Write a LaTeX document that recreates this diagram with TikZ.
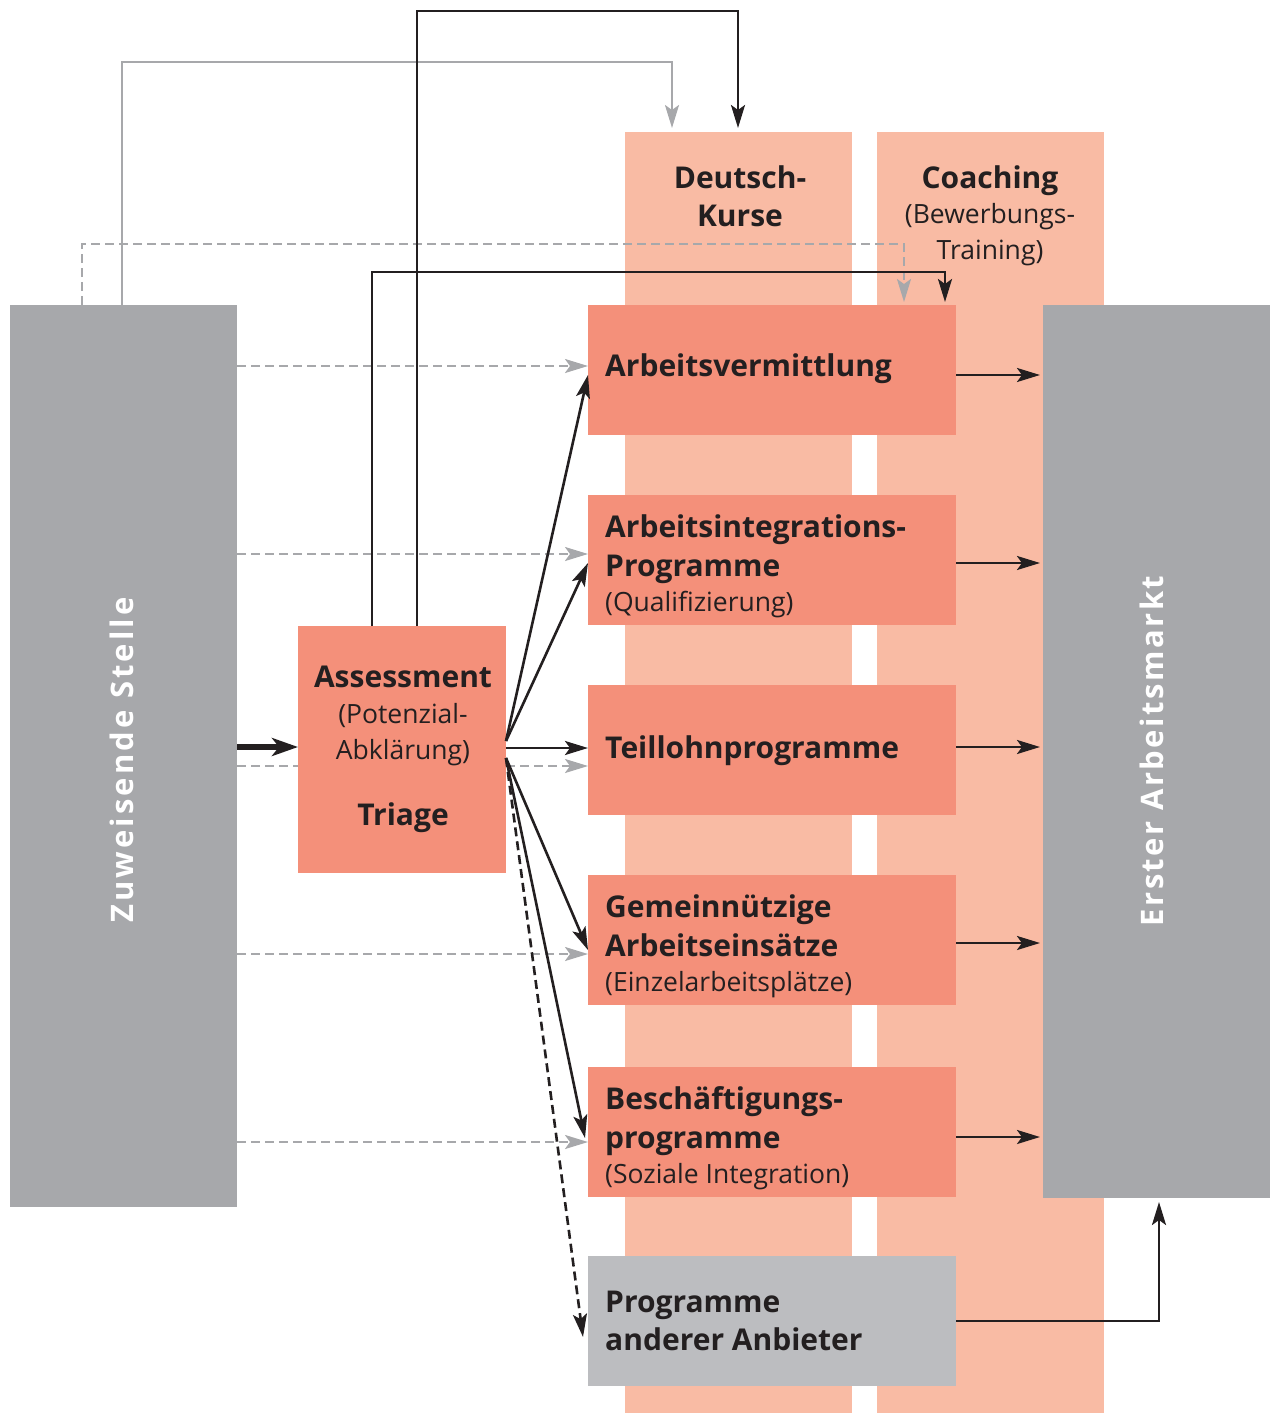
\documentclass[tikz,border=0pt]{standalone}
\usepackage{fontspec}
\setmainfont{Open Sans}
\usetikzlibrary{arrows.meta}
\definecolor{grayA}{HTML}{A7A8AB}
\definecolor{grayB}{HTML}{BCBDC0}
\definecolor{salmonL}{HTML}{F9BBA4}
\definecolor{salmonD}{HTML}{F4907A}
\definecolor{txt}{HTML}{231F20}
\definecolor{lineG}{HTML}{A7A8AB}
\tikzset{
  tip/.style={-{Stealth[length=23pt,width=14pt,inset=5pt]}},
  blk/.style={tip,draw=txt,line width=2.6pt},
  gry/.style={tip,draw=lineG,color=lineG,line width=2.2pt},
  gdash/.style={gry,dash pattern=on 9pt off 5pt},
  bdash/.style={blk,dash pattern=on 9pt off 5pt},
  col/.style={fill=salmonL,draw=none,minimum width=227pt,minimum height=1281pt,anchor=north west,inner sep=0},
  prog/.style={fill=salmonD,draw=none,minimum width=368pt,minimum height=130pt,anchor=north west,inner sep=0},
  btxt/.style={anchor=west,align=left,inner sep=0,text=txt,font=\fontsize{30}{39}\selectfont},
}
\begin{document}
\begin{tikzpicture}[x=1pt,y=-1pt]
\useasboundingbox (0,0) rectangle (1270,1413);
% columns
\node[col] (deutsch) at (625,132) {};
\node[col] (coach) at (877,132) {};
\node[text=txt,align=center,font=\fontsize{30}{38}\selectfont\bfseries] (deutschT) at (740,196) {Deutsch-\\Kurse};
\node[text=txt,align=center,font=\fontsize{30}{37}\selectfont] (coachT) at (990,216) {\textbf{Coaching}\\[-2pt]{\fontsize{26.5}{33}\selectfont(Bewerbungs-}\\[-1pt]{\fontsize{26.5}{33}\selectfont Training)}};
% gray side boxes
\node[fill=grayA,minimum width=227pt,minimum height=902pt,anchor=north west,inner sep=0] (zuw) at (10,305) {};
\node[fill=grayA,minimum width=227pt,minimum height=893pt,anchor=north west,inner sep=0] (erst) at (1043,305) {};
\node[rotate=90,text=white,font=\fontsize{31}{34}\selectfont\bfseries] (zuwT) at (122,760) {\addfontfeatures{LetterSpace=10}Zuweisende Stelle};
\node[rotate=90,text=white,font=\fontsize{31}{34}\selectfont\bfseries] (erstT) at (1152,751) {\addfontfeatures{LetterSpace=8}Erster Arbeitsmarkt};
% assessment
\node[fill=salmonD,minimum width=208pt,minimum height=247pt,anchor=north west,inner sep=0] (ass) at (298,626) {};
\node[text=txt,align=center,font=\fontsize{30}{37}\selectfont] (assT) at (403,716) {\textbf{Assessment}\\[-1pt]{\fontsize{26.5}{35}\selectfont(Potenzial-}\\[-1pt]{\fontsize{26.5}{35}\selectfont Abklärung)}};
\node[text=txt,font=\fontsize{30}{36}\selectfont\bfseries] (triT) at (403,818) {Triage};
% programs
\node[prog] (p1) at (588,305) {};
\node[prog] (p2) at (588,495) {};
\node[prog] (p3) at (588,685) {};
\node[prog] (p4) at (588,875) {};
\node[prog] (p5) at (588,1067) {};
\node[prog,fill=grayB] (p6) at (588,1256) {};
\node[btxt,font=\fontsize{30}{39}\selectfont\bfseries] (t1) at (605,369) {Arbeitsvermittlung};
\node[btxt] (t2) at (605,566) {\textbf{Arbeitsintegrations-}\\\textbf{Programme}\\[-4pt]{\fontsize{26.5}{30}\selectfont(Qualifizierung)}};
\node[btxt,font=\fontsize{30}{39}\selectfont\bfseries] (t3) at (605,751) {Teillohnprogramme};
\node[btxt] (t4) at (605,946) {\textbf{Gemeinnützige}\\\textbf{Arbeitseinsätze}\\[-4pt]{\fontsize{26.5}{30}\selectfont(Einzelarbeitsplätze)}};
\node[btxt] (t5) at (605,1138) {\textbf{Beschäftigungs-}\\\textbf{programme}\\[-4pt]{\fontsize{26.5}{30}\selectfont(Soziale Integration)}};
\node[btxt,font=\fontsize{30}{38}\selectfont\bfseries] (t6) at (605,1321) {Programme\\anderer Anbieter};
% coordinates
\coordinate (o1) at (506,741);
\coordinate (o2) at (506,758);
% thick input arrow
\draw[-{Stealth[length=26pt,width=18pt,inset=7pt]},draw=txt,fill=txt,line width=6pt] (237,747) -- (ass.west |- 0,747);
% gray dashed from left
\foreach \y/\n in {366/p1,554/p2,954/p4,1142/p5}{
  \draw[gdash] (237,\y) -- (\n.west |- 0,\y);
}
\draw[draw=lineG,line width=2.2pt,dash pattern=on 9pt off 5pt] (237,766) -- (298,766);
\draw[gdash] (506,766) -- (p3.west |- 0,766);
% gray dashed top route
\draw[gdash] (82,305) -- (82,244) -- (904,244) -- (904,302);
% gray solid top route
\draw[gry] (122,305) -- (122,62) -- (672,62) -- (672,128);
% black top routes
\draw[blk] (417,626) -- (417,11) -- (738,11) -- (738,128);
\draw[blk] (372,626) -- (372,272) -- (945,272) -- (945,302);
% fan
\draw[blk] (o1) -- (588,375);
\draw[blk] (o1) -- (588,563);
\draw[blk] (506,748) -- (588,748);
\draw[blk] (o2) -- (588,950);
\draw[blk] (o2) -- (585,1138);
\draw[bdash] (o2) -- (583,1337);
% outputs
\foreach \y in {375,563,747,943,1137}{
  \draw[blk] (956,\y) -- (1040,\y);
}
\draw[blk] (p6.east |- 0,1321) -- (1159,1321) -- (1159,1202);
\end{tikzpicture}
\end{document}
